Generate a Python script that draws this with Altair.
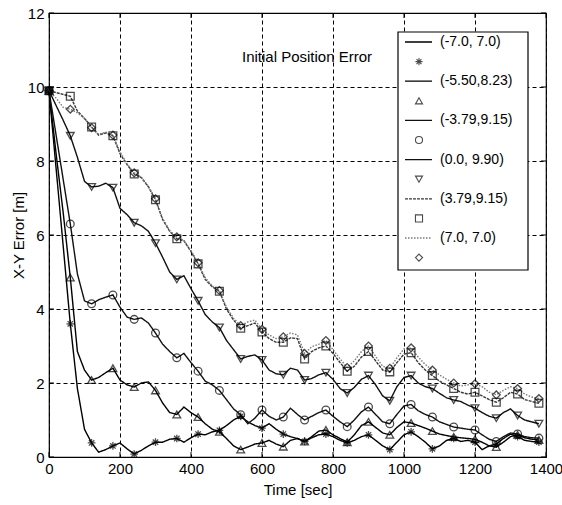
import altair as alt
import pandas as pd

# Sample times [sec]
TIME = list(range(0, 1400, 20))

# X-Y position error [m] for each initial position error case
ERR_A = [9.90, 7.80, 5.70, 3.60, 1.85, 0.75, 0.38, 0.13, 0.20, 0.30,
         0.38, 0.22, 0.08, 0.18, 0.30, 0.40, 0.40, 0.48, 0.50, 0.40,
         0.52, 0.62, 0.60, 0.68, 0.72, 0.85, 1.00, 1.10, 0.95, 0.85,
         0.78, 0.90, 0.75, 0.62, 0.55, 0.50, 0.42, 0.52, 0.60, 0.62,
         0.55, 0.45, 0.38, 0.45, 0.55, 0.60, 0.45, 0.30, 0.20, 0.40,
         0.60, 0.68, 0.55, 0.40, 0.22, 0.30, 0.45, 0.50, 0.42, 0.45,
         0.40, 0.20, 0.30, 0.35, 0.50, 0.62, 0.55, 0.45, 0.42, 0.40]
ERR_B = [9.90, 8.20, 6.60, 4.85, 2.85, 2.35, 2.08, 2.15, 2.28, 2.40,
         2.08, 1.95, 1.89, 2.00, 2.03, 1.80, 1.46, 1.20, 1.15, 1.35,
         1.20, 1.08, 0.90, 0.75, 0.68, 0.50, 0.30, 0.20, 0.27, 0.35,
         0.38, 0.45, 0.35, 0.28, 0.45, 0.50, 0.42, 0.55, 0.70, 0.73,
         0.60, 0.50, 0.40, 0.60, 0.85, 0.95, 0.80, 0.65, 0.60, 0.80,
         0.95, 0.92, 0.85, 0.78, 0.70, 0.62, 0.58, 0.54, 0.52, 0.50,
         0.48, 0.40, 0.30, 0.27, 0.40, 0.55, 0.60, 0.52, 0.48, 0.46]
ERR_C = [9.90, 8.70, 7.50, 6.30, 4.95, 4.22, 4.14, 4.25, 4.32, 4.38,
         4.05, 3.78, 3.72, 3.76, 3.62, 3.35, 3.05, 2.85, 2.68, 2.80,
         2.55, 2.32, 2.05, 1.95, 1.80, 1.55, 1.30, 1.14, 0.90, 1.05,
         1.27, 1.10, 1.00, 1.08, 1.32, 1.15, 1.00, 1.10, 1.20, 1.27,
         1.10, 0.95, 0.82, 1.00, 1.22, 1.35, 1.15, 0.95, 0.90, 1.15,
         1.38, 1.42, 1.25, 1.15, 1.08, 0.95, 0.88, 0.81, 0.78, 0.75,
         0.73, 0.60, 0.48, 0.42, 0.55, 0.65, 0.62, 0.55, 0.52, 0.51]
ERR_D = [9.90, 9.50, 9.10, 8.68, 8.10, 7.45, 7.30, 7.32, 7.40, 7.28,
         6.72, 6.55, 6.33, 6.25, 6.10, 5.78, 5.40, 5.00, 4.80, 4.90,
         4.55, 4.22, 3.85, 3.65, 3.50, 3.15, 2.90, 2.65, 2.72, 2.76,
         2.62, 2.35, 2.25, 2.22, 2.40, 2.35, 2.08, 2.12, 2.22, 2.28,
         2.10, 1.85, 1.73, 1.88, 2.10, 2.20, 1.95, 1.65, 1.52, 1.90,
         2.15, 2.20, 2.00, 1.90, 1.85, 1.72, 1.60, 1.54, 1.50, 1.40,
         1.32, 1.20, 1.10, 1.05, 1.20, 1.30, 1.12, 1.00, 0.95, 0.90]
ERR_E = [9.90, 9.85, 9.80, 9.75, 9.35, 9.15, 8.92, 8.70, 8.76, 8.68,
         8.20, 7.90, 7.65, 7.55, 7.30, 6.95, 6.42, 6.10, 5.90, 5.85,
         5.55, 5.22, 4.80, 4.60, 4.48, 4.00, 3.70, 3.48, 3.55, 3.62,
         3.38, 3.20, 3.10, 3.10, 3.22, 3.20, 2.65, 2.85, 2.95, 3.00,
         2.80, 2.55, 2.32, 2.45, 2.70, 2.85, 2.60, 2.35, 2.30, 2.55,
         2.78, 2.82, 2.55, 2.35, 2.20, 2.05, 1.95, 1.85, 1.75, 1.70,
         1.75, 1.65, 1.55, 1.48, 1.60, 1.75, 1.70, 1.55, 1.50, 1.45]
ERR_F = [9.90, 9.70, 9.45, 9.40, 9.30, 9.15, 8.90, 8.72, 8.78, 8.70,
         8.25, 7.92, 7.68, 7.56, 7.32, 6.98, 6.45, 6.12, 5.95, 5.85,
         5.58, 5.25, 4.85, 4.62, 4.50, 4.05, 3.75, 3.55, 3.65, 3.70,
         3.45, 3.30, 3.20, 3.25, 3.35, 3.30, 2.80, 2.98, 3.05, 3.15,
         2.90, 2.65, 2.42, 2.60, 2.85, 3.00, 2.72, 2.45, 2.40, 2.68,
         2.92, 2.95, 2.70, 2.50, 2.35, 2.22, 2.10, 2.00, 1.92, 1.95,
         1.98, 1.90, 1.75, 1.68, 1.80, 1.90, 1.85, 1.70, 1.62, 1.58]

CASES = ["(-7.0, 7.0)", "(-5.50,8.23)", "(-3.79,9.15)",
         "(0.0, 9.90)", "(3.79,9.15)", "(7.0, 7.0)"]
SERIES = [ERR_A, ERR_B, ERR_C, ERR_D, ERR_E, ERR_F]

X_TICKS = [0, 200, 400, 600, 800, 1000, 1200, 1400]
Y_TICKS = [0, 2, 4, 6, 8, 10, 12]
NOTE = ["Initial Position Error"]

# styles
STAR = "M-1,0L1,0M0,-1L0,1M-0.7,-0.7L0.7,0.7M-0.7,0.7L0.7,-0.7"
SHAPES = [STAR, "triangle-up", "circle", "triangle-down", "square", "diamond"]
LINE_COLORS = ["#000000", "#000000", "#111111", "#111111", "#3a3a3a", "#7a7a7a"]
LINE_DASH = [[1, 0], [1, 0], [1, 0], [1, 0], [3, 1], [1.5, 1.5]]
FONT = "Liberation Sans"
W, H = 497, 444

rows = []
for case, ys in zip(CASES, SERIES):
    for t, v in zip(TIME, ys):
        rows.append({"time": t, "err": v, "case": case})
df = pd.DataFrame(rows)

x_scale = alt.Scale(domain=[0, 1400], nice=False, zero=False)
y_scale = alt.Scale(domain=[0, 12], nice=False)
x_axis = alt.Axis(values=X_TICKS, title="Time [sec]", grid=True, ticks=False,
                  domain=False, labelFlush=False, labelPadding=4, titlePadding=6,
                  format="d")
y_axis = alt.Axis(values=Y_TICKS, title="X-Y Error [m]", grid=True, ticks=False,
                  domain=False, labelPadding=5, titlePadding=1, format="d")

color_enc = alt.Color("case:N", scale=alt.Scale(domain=CASES, range=LINE_COLORS), legend=None)
dash_enc = alt.StrokeDash("case:N", scale=alt.Scale(domain=CASES, range=LINE_DASH), legend=None)
shape_enc = alt.Shape("case:N", scale=alt.Scale(domain=CASES, range=SHAPES), legend=None)

X = alt.X("time:Q", scale=x_scale, axis=x_axis)
Y = alt.Y("err:Q", scale=y_scale, axis=y_axis)

lines = alt.Chart(df).mark_line(strokeWidth=1.4).encode(
    x=X, y=Y, color=color_enc, strokeDash=dash_enc)

markers = alt.Chart(df).transform_filter("datum.time % 60 == 0").mark_point(
    filled=False, size=60, strokeWidth=1.3, color="black").encode(
    x=X, y=Y, shape=shape_enc)

# inward tick marks on all four sides
xt = pd.DataFrame({"time": X_TICKS})
yt = pd.DataFrame({"err": Y_TICKS})
tick_bottom = alt.Chart(xt).mark_rule(color="black").encode(
    x=X, y=alt.value(H), y2=alt.value(H - 5))
tick_top = alt.Chart(xt).mark_rule(color="black").encode(
    x=X, y=alt.value(0), y2=alt.value(5))
tick_left = alt.Chart(yt).mark_rule(color="black").encode(
    y=Y, x=alt.value(0), x2=alt.value(5))
tick_right = alt.Chart(yt).mark_rule(color="black").encode(
    y=Y, x=alt.value(W), x2=alt.value(W - 5))

main = alt.layer(lines, markers, tick_bottom, tick_top, tick_left, tick_right)

# legend: a line row with its label, then a marker row, for each case
leg_lines = pd.DataFrame({"case": CASES, "row": [2 * i for i in range(len(CASES))]})
leg_marks = pd.DataFrame({"case": CASES, "row": [2 * i + 1 for i in range(len(CASES))]})
row_scale = alt.Scale(domain=[0, 11], range=[29, 29 + 19.6 * 11])
RY = alt.Y("row:Q", scale=row_scale, axis=None)

box = alt.Chart(pd.DataFrame({"k": [0]})).mark_rect(
    fill="white", stroke="black", strokeWidth=1.2).encode(
    x=alt.value(349), x2=alt.value(479), y=alt.value(19), y2=alt.value(257))
leg_rule = alt.Chart(leg_lines).mark_rule(strokeWidth=1.3).encode(
    x=alt.value(356), x2=alt.value(383), y=RY, color=color_enc, strokeDash=dash_enc)
leg_text = alt.Chart(leg_lines).mark_text(
    align="left", baseline="middle", font=FONT, fontSize=14, color="black").encode(
    x=alt.value(391), y=RY, text="case:N")
leg_pt = alt.Chart(leg_marks).mark_point(
    filled=False, size=50, strokeWidth=1.1, color="black").encode(
    x=alt.value(370), y=RY, shape=shape_enc)
note = alt.Chart(pd.DataFrame({"note": NOTE})).mark_text(
    align="left", baseline="middle", font=FONT, fontSize=15, color="black").encode(
    x=alt.value(193), y=alt.value(44), text="note:N")

legend = alt.layer(box, leg_rule, leg_text, leg_pt, note)

chart = alt.layer(main, legend).resolve_scale(y="independent").properties(
    width=W, height=H,
    autosize=alt.AutoSizeParams(type="none"),
    padding={"left": 49, "top": 13, "right": 16, "bottom": 48},
    background="white",
).configure_axis(
    labelFont=FONT, titleFont=FONT, labelFontSize=15, titleFontSize=15,
    labelColor="black", titleColor="black", titleFontWeight="normal",
    gridColor="black", gridOpacity=1, gridWidth=1, gridDash=[4, 3],
).configure_view(stroke="black", strokeWidth=1.2)

chart.save("out.html", embed_options={"renderer": "svg", "actions": False})
